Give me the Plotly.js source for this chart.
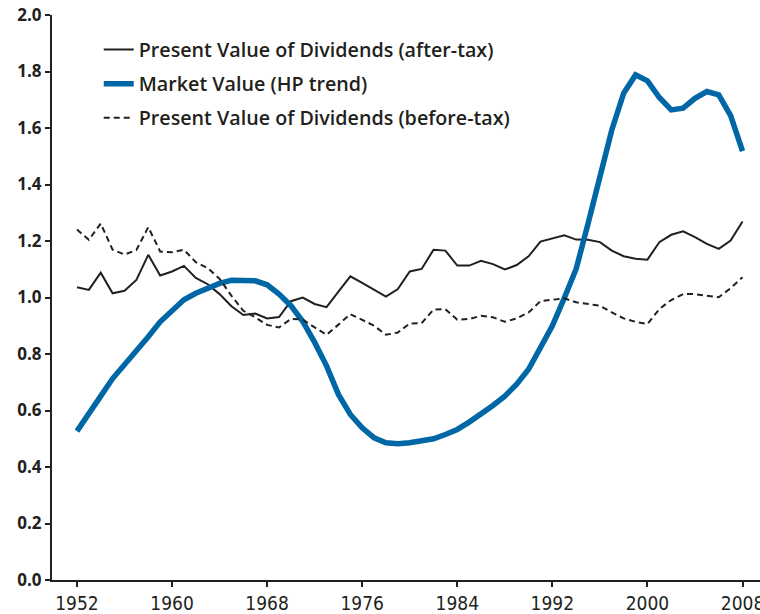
<!DOCTYPE html>
<html>
<head>
<meta charset="utf-8">
<script src="https://cdn.plot.ly/plotly-3.0.1.min.js"></script>
<style>html,body{margin:0;padding:0;background:#fff;}#chart{width:760px;height:614px;}</style>
</head>
<body>
<div id="chart"></div>
<script>
const years = [1952,1953,1954,1955,1956,1957,1958,1959,1960,1961,1962,1963,1964,1965,1966,1967,1968,1969,1970,1971,1972,1973,1974,1975,1976,1977,1978,1979,1980,1981,1982,1983,1984,1985,1986,1987,1988,1989,1990,1991,1992,1993,1994,1995,1996,1997,1998,1999,2000,2001,2002,2003,2004,2005,2006,2007,2008];

const pvAfterTax = [1.036,1.027,1.088,1.015,1.024,1.062,1.151,1.078,1.092,1.112,1.069,1.047,1.012,0.969,0.938,0.943,0.926,0.931,0.987,1.000,0.977,0.966,1.021,1.075,1.052,1.028,1.003,1.030,1.092,1.101,1.169,1.166,1.113,1.113,1.130,1.118,1.099,1.115,1.146,1.198,1.208,1.220,1.205,1.204,1.196,1.166,1.146,1.137,1.134,1.196,1.222,1.234,1.214,1.190,1.172,1.202,1.269];

const marketValue = [0.527,0.586,0.651,0.713,0.760,0.808,0.861,0.914,0.953,0.992,1.015,1.033,1.050,1.061,1.061,1.059,1.045,1.012,0.971,0.915,0.841,0.758,0.657,0.586,0.539,0.503,0.486,0.482,0.486,0.491,0.500,0.515,0.533,0.559,0.586,0.618,0.651,0.693,0.746,0.820,0.900,0.998,1.101,1.261,1.433,1.593,1.723,1.788,1.767,1.708,1.664,1.670,1.705,1.729,1.717,1.644,1.518];

const pvBeforeTax = [1.241,1.204,1.262,1.169,1.152,1.168,1.249,1.163,1.160,1.169,1.125,1.104,1.066,1.006,0.953,0.930,0.903,0.894,0.924,0.922,0.894,0.868,0.904,0.941,0.921,0.900,0.868,0.876,0.908,0.909,0.957,0.959,0.921,0.924,0.935,0.930,0.914,0.926,0.947,0.987,0.992,0.997,0.983,0.977,0.971,0.947,0.926,0.914,0.906,0.959,0.991,1.012,1.012,1.006,1.001,1.033,1.072];

const xTicks = [1952,1960,1968,1976,1984,1992,2000,2008];
const yTicks = [0,0.2,0.4,0.6,0.8,1.0,1.2,1.4,1.6,1.8,2.0];
const yTickLabels = ['0.0','0.2','0.4','0.6','0.8','1.0','1.2','1.4','1.6','1.8','2.0'];

const names = ['Present Value of Dividends (after-tax)','Market Value (HP trend)','Present Value of Dividends (before-tax)'];

const ink = '#231f20';
const blue = '#0067a6';

const traces = [
  {x: years, y: pvAfterTax, name: names[0], legendgroup: 'a', type: 'scatter', mode: 'lines',
   line: {color: ink, width: 2}},
  {x: years, y: marketValue, name: names[1], legendgroup: 'b', type: 'scatter', mode: 'lines',
   line: {color: blue, width: 5.5}},
  {x: years, y: pvBeforeTax, name: names[2], legendgroup: 'c', type: 'scatter', mode: 'lines',
   line: {color: ink, width: 2, dash: '6px,4px'}}
];

const layout = {
  width: 760, height: 614,
  margin: {l: 52, r: 0, t: 15, b: 34, pad: 0},
  paper_bgcolor: '#fff', plot_bgcolor: '#fff',
  showlegend: true,
  legend: {x: 0.066, y: 0.973, xanchor: 'left', yanchor: 'top', bgcolor: 'rgba(0,0,0,0)',
           font: {family: 'Open Sans, sans-serif', size: 19.7, color: ink, weight: 600},
           tracegroupgap: 5.5, traceorder: 'grouped'},
  xaxis: {range: [1949.9, 2009.47], tickvals: xTicks, ticktext: xTicks.map(String),
          showgrid: false, zeroline: false, showline: true, linecolor: ink, linewidth: 2,
          ticks: 'outside', ticklen: 5, tickwidth: 2, tickcolor: ink,
          ticklabeloverflow: 'allow',
          tickfont: {family: 'Liberation Sans Narrow, DejaVu Sans Condensed, sans-serif', size: 19, color: ink}},
  yaxis: {range: [0, 2.0], tickvals: yTicks, ticktext: yTickLabels,
          showgrid: false, zeroline: false, showline: true, linecolor: ink, linewidth: 2,
          ticks: 'outside', ticklen: 5, tickwidth: 2, tickcolor: ink,
          tickfont: {family: 'Open Sans, sans-serif', size: 17, color: ink, weight: 700}}
};

Plotly.newPlot('chart', traces, layout, {staticPlot: true, displayModeBar: false});
</script>
</body>
</html>
